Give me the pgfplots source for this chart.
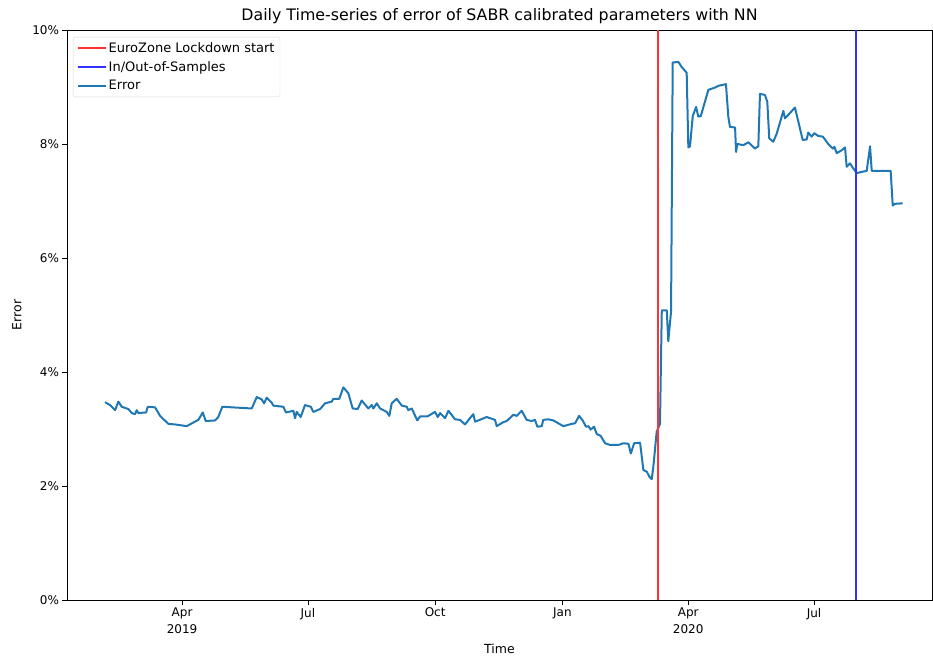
\documentclass[border=0pt]{standalone}
\usepackage{pgfplots}
\pgfplotsset{compat=1.18}
\usepackage{fontspec}
\setmainfont{DejaVu Sans}
\definecolor{errblue}{HTML}{1F77B4}
\definecolor{lockred}{HTML}{FF3333}
\definecolor{sampblue}{HTML}{3333FF}
\begin{document}
\begin{tikzpicture}
\useasboundingbox (-67pt,-58pt) rectangle (866pt,600pt);
\begin{axis}[
  at={(0pt,0pt)}, anchor=south west,
  scale only axis, width=865pt, height=570pt,
  xmin=-83.2, xmax=542.3, ymin=0, ymax=10,
  xtick={0,91,183,275,366,457},
  xticklabels={Apr\\2019,Jul,Oct,Jan,Apr\\2020,Jul},
  ytick={0,2,4,6,8,10},
  yticklabels={0\%,2\%,4\%,6\%,8\%,10\%},
  xticklabel style={align=center, font=\fontsize{12}{17}\selectfont},
  yticklabel style={font=\fontsize{12}{14}\selectfont},
  /pgf/number format/assume math mode=true,
  tick align=outside, xtick pos=left, ytick pos=left,
  major tick length=4.5pt,
  tick style={black, line width=0.8pt},
  axis line style={line width=0.8pt},
  title={Daily Time-series of error of SABR calibrated parameters with NN},
  title style={font=\fontsize{15.8}{18}\selectfont, yshift=-3pt},
  xlabel={Time}, ylabel={Error},
  label style={font=\fontsize{12.5}{14}\selectfont},
  xlabel style={yshift=-3pt},
  ylabel style={yshift=4pt},
  legend style={at={(rel axis cs:0,1)}, anchor=north west, xshift=6pt, yshift=-7pt,
    draw=black!15, rounded corners=2pt, font=\fontsize{13}{15}\selectfont,
    row sep=3.5pt, inner sep=3.5pt},
  legend cell align=left,
  legend image code/.code={\draw (0pt,0pt) -- (28pt,0pt);},
]
\addplot[lockred, line width=2pt] coordinates {(344.2,0) (344.2,10)};
\addlegendentry{EuroZone Lockdown start}
\addplot[sampblue, line width=2pt] coordinates {(487.3,0) (487.3,10)};
\addlegendentry{In/Out-of-Samples}
\addplot[errblue, line width=2pt, line join=round] table {
x y
-55.7 3.47
-52.1 3.42
-48.4 3.33
-46.1 3.48
-43.6 3.39
-38.8 3.35
-36.4 3.28
-34.0 3.26
-32.8 3.33
-31.6 3.28
-26.0 3.29
-24.8 3.39
-19.5 3.38
-15.9 3.23
-9.9 3.09
-5.1 3.08
3.4 3.05
9.4 3.13
11.8 3.16
15.0 3.29
17.1 3.14
23.9 3.15
26.2 3.21
29.1 3.39
50.4 3.36
54.0 3.56
57.6 3.52
59.3 3.45
61.2 3.55
64.9 3.46
66.0 3.41
73.2 3.39
75.2 3.29
80.5 3.32
81.7 3.19
82.9 3.30
85.8 3.21
88.9 3.42
93.1 3.39
94.9 3.30
99.8 3.35
103.4 3.45
108.2 3.48
109.4 3.53
113.7 3.53
116.6 3.73
120.2 3.63
123.4 3.36
127.0 3.35
129.9 3.50
134.7 3.36
137.2 3.42
138.3 3.36
140.8 3.45
143.2 3.36
148.0 3.30
149.9 3.23
151.6 3.45
155.2 3.53
158.9 3.41
162.5 3.39
163.6 3.33
166.1 3.36
170.1 3.15
172.1 3.22
177.4 3.22
182.9 3.30
184.9 3.21
186.6 3.28
190.2 3.19
192.6 3.32
197.4 3.17
201.0 3.16
204.6 3.08
208.2 3.19
210.6 3.26
211.9 3.13
214.2 3.15
220.3 3.21
226.3 3.16
227.5 3.05
232.3 3.12
234.8 3.14
239.6 3.25
242.0 3.23
245.6 3.32
249.2 3.16
252.9 3.14
255.2 3.16
256.9 3.04
260.1 3.05
261.2 3.16
264.9 3.17
268.5 3.15
275.7 3.05
281.8 3.09
284.2 3.10
287.1 3.23
289.7 3.15
292.1 3.04
293.8 3.05
295.5 2.99
297.9 3.04
299.9 2.91
302.7 2.88
305.9 2.75
309.5 2.72
315.5 2.72
319.1 2.75
322.8 2.74
324.5 2.57
326.9 2.75
331.2 2.76
333.6 2.28
336.1 2.25
338.0 2.16
339.6 2.12
340.8 2.34
343.2 2.95
345.6 3.09
346.9 5.08
350.5 5.08
351.6 4.54
353.6 5.06
354.8 9.43
358.9 9.44
361.3 9.35
364.9 9.25
366.1 7.94
367.3 7.96
369.3 8.49
371.7 8.65
373.3 8.48
375.1 8.49
380.6 8.95
385.4 8.99
387.8 9.02
393.3 9.05
395.0 8.48
396.2 8.30
399.9 8.29
400.6 7.86
401.5 8.00
405.9 7.98
409.5 8.03
414.3 7.92
416.7 7.96
417.9 8.88
421.5 8.86
423.2 8.74
424.6 8.10
427.5 8.04
430.0 8.18
434.8 8.58
436.0 8.45
439.1 8.53
443.2 8.64
448.8 8.07
451.7 8.08
452.8 8.20
455.3 8.13
457.2 8.19
460.0 8.14
463.3 8.13
467.3 8.00
470.5 7.92
471.7 7.95
473.4 7.84
477.0 7.89
479.4 7.94
480.6 7.60
483.0 7.66
485.4 7.57
487.9 7.49
491.5 7.51
495.1 7.53
497.5 7.96
498.7 7.53
512.4 7.53
513.9 6.92
515.5 6.95
521.1 6.96
};
\addlegendentry{Error}
\addplot[lockred, line width=2pt, forget plot] coordinates {(344.2,0) (344.2,10)};
\addplot[sampblue, line width=2pt, forget plot] coordinates {(487.3,0) (487.3,10)};
\end{axis}
\end{tikzpicture}
\end{document}
